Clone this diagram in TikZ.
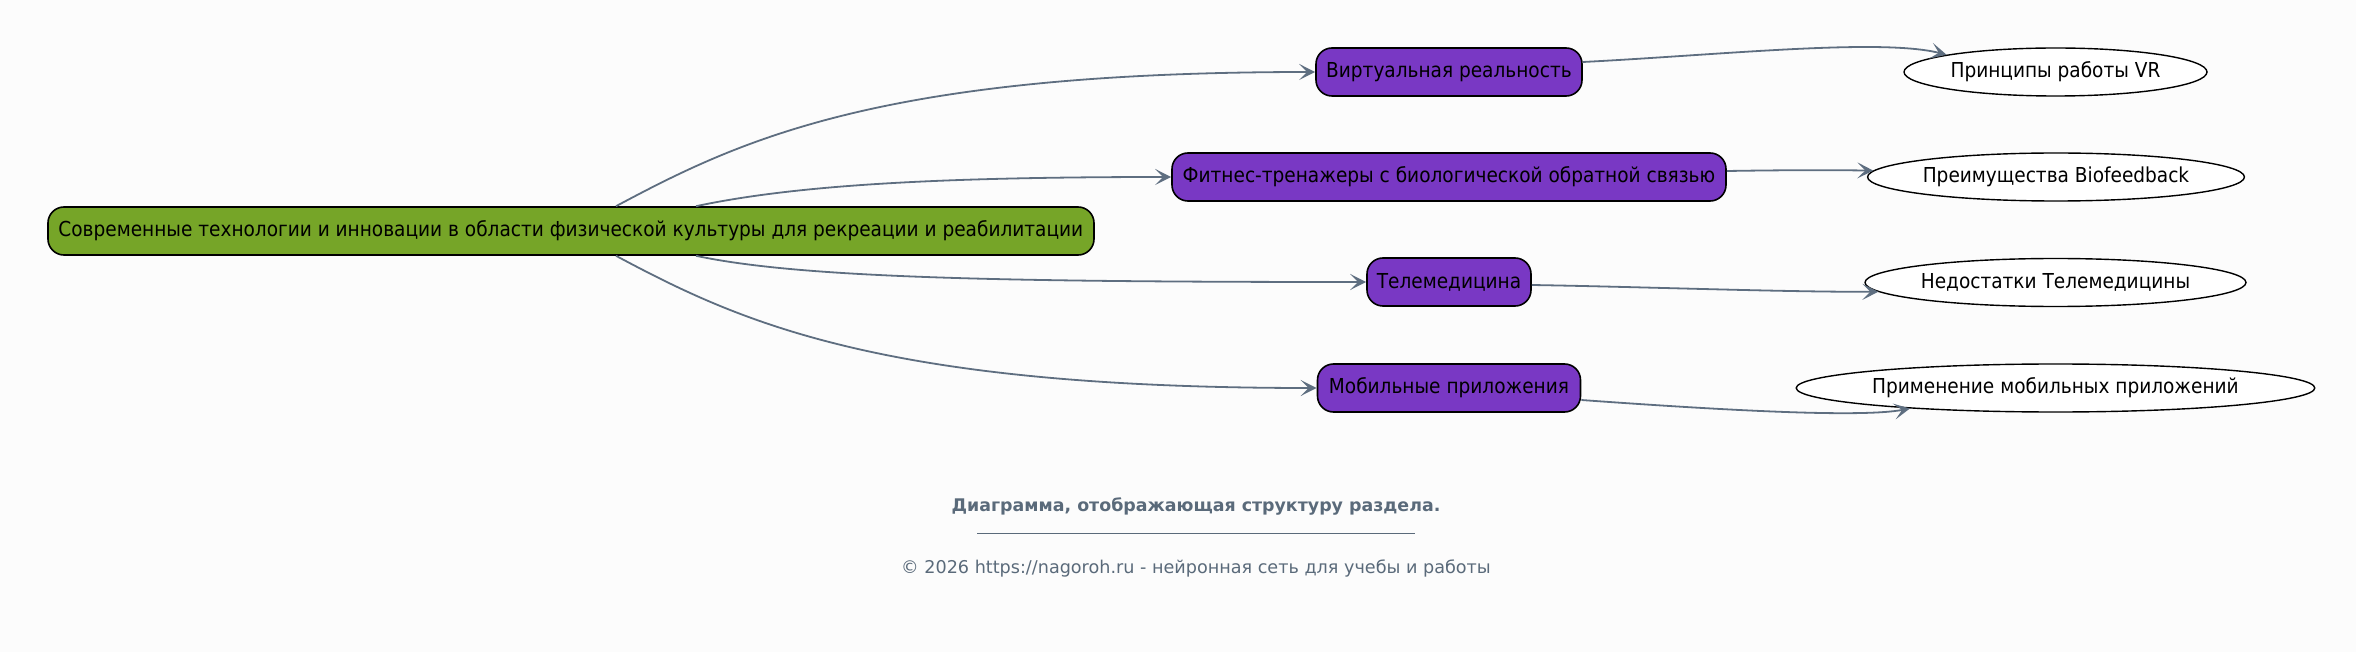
\documentclass[tikz,border=0pt]{standalone}
\usepackage{fontspec}
\setmainfont{DejaVu Sans}
\newfontfamily\condfont{DejaVu Sans Condensed}
\usetikzlibrary{shapes.geometric,arrows.meta}
\definecolor{bgc}{RGB}{252,252,252}
\definecolor{rootgreen}{RGB}{118,165,40}
\definecolor{subpurple}{RGB}{121,56,196}
\definecolor{edgegray}{RGB}{94,110,128}
\definecolor{captgray}{RGB}{90,106,122}
\tikzset{
  rootbox/.style={draw=black, line width=0.8pt, fill=rootgreen, rounded corners=8pt, minimum height=24pt, inner sep=0pt, font=\condfont\fontsize{10.3}{12}\selectfont},
  subbox/.style={draw=black, line width=0.8pt, fill=subpurple, rounded corners=8pt, minimum height=24pt, inner sep=0pt, font=\condfont\fontsize{10.3}{12}\selectfont},
  leaf/.style={draw=black, line width=0.7pt, fill=white, ellipse, minimum height=24pt, inner sep=0pt, font=\condfont\fontsize{10.3}{12}\selectfont},
  edge/.style={draw=edgegray, line width=0.9pt, -{Stealth[length=8pt,width=8pt,inset=4pt]}},
}
\begin{document}
\begin{tikzpicture}[x=0.5pt,y=-0.5pt]
\fill[bgc] (0,0) rectangle (2356,652);
\useasboundingbox (0,0) rectangle (2356,652);
\node[rootbox, minimum width=523pt] (root) at (571,231) {Современные технологии и инновации в области физической культуры для рекреации и реабилитации};
\node[subbox, minimum width=133pt] (vr) at (1449,72) {Виртуальная реальность};
\node[subbox, minimum width=277pt] (fit) at (1449,177) {Фитнес-тренажеры с биологической обратной связью};
\node[subbox, minimum width=82pt] (tel) at (1449,282) {Телемедицина};
\node[subbox, minimum width=131.5pt] (mob) at (1449,388) {Мобильные приложения};
\node[leaf, minimum width=151.5pt] (evr) at (2055.5,72) {Принципы работы VR};
\node[leaf, minimum width=187pt] (ebio) at (2056,177) {Преимущества Biofeedback};
\node[leaf, minimum width=189.5pt] (ened) at (2055.5,282.5) {Недостатки Телемедицины};
\node[leaf, minimum width=252.5pt] (eprim) at (2055.5,388) {Применение мобильных приложений};
\draw[edge] ([xshift=22.5pt]root.north) .. controls (740,140) and (880,72) .. (vr.west);
\draw[edge] ([xshift=62.5pt]root.north) .. controls (800,184) and (950,177) .. (fit.west);
\draw[edge] ([xshift=62.5pt]root.south) .. controls (800,278) and (1000,282) .. (tel.west);
\draw[edge] ([xshift=22.5pt]root.south) .. controls (740,322) and (880,388) .. (mob.west);
\draw[edge] ([yshift=5pt]vr.east) .. controls (1720,55) and (1880,38) .. (evr.171);
\draw[edge] ([yshift=3pt]fit.east) .. controls (1790,170) and (1830,170) .. (ebio.178);
\draw[edge] ([yshift=-1.5pt]tel.east) .. controls (1650,287) and (1780,292) .. (ened.183);
\draw[edge] ([yshift=-6pt]mob.east) .. controls (1720,410) and (1860,418) .. (eprim.188);
\node[text=captgray, font=\bfseries\fontsize{8.7}{10}\selectfont] (cap) at (1196,506) {Диаграмма, отображающая структуру раздела.};
\coordinate (la) at (977,533);
\coordinate (lb) at (1415,533);
\draw[captgray, line width=0.5pt] (la) -- (lb);
\node[text=captgray, font=\fontsize{8.8}{10}\selectfont] (foot) at (1196,568) {© 2026 https://nagoroh.ru - нейронная сеть для учебы и работы};
\end{tikzpicture}
\end{document}
